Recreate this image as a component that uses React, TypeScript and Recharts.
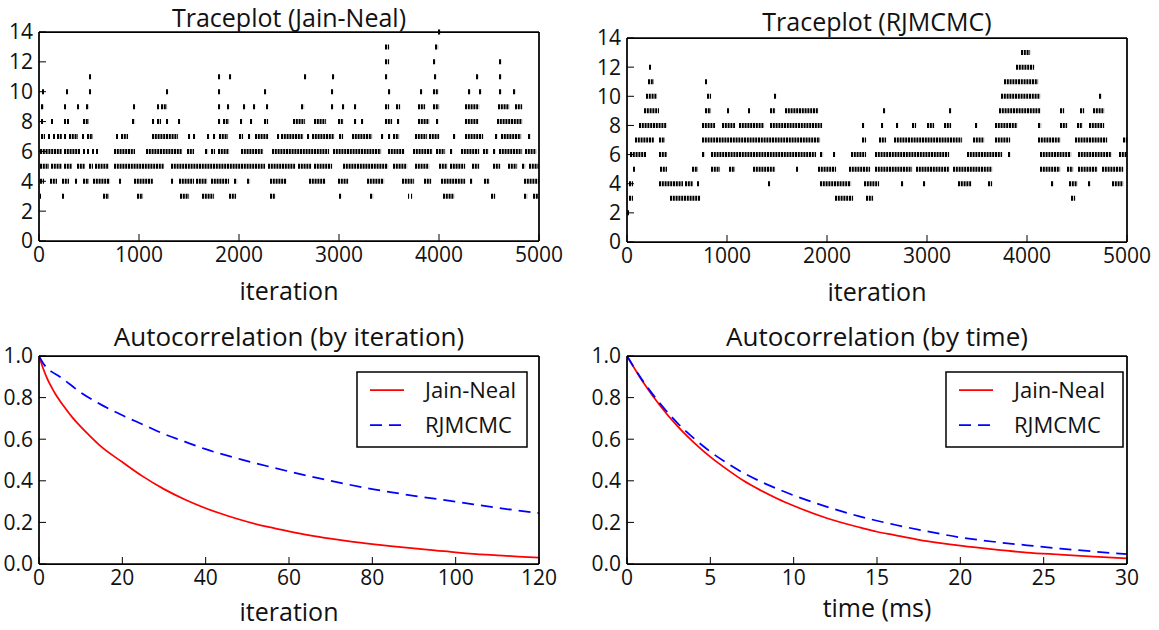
import React from 'react';
import { ScatterChart, Scatter, ErrorBar, XAxis, YAxis, LineChart, Line } from 'recharts';

const FONT = '"Open Sans", "DejaVu Sans", sans-serif';

// ---- traceplot data: [start, end] iteration spans where the sampler sat at k ----
const jnK3 = [[10, 20], [230, 250], [640, 700], [980, 1040], [1410, 1500], [1630, 1750], [1900, 1970], [2310, 2360], [3000, 3020], [3310, 3340], [3690, 3700], [3720, 3730], [4040, 4150], [4520, 4560], [4850, 4880], [4940, 4990]];
const jnK4 = [[10, 50], [110, 180], [230, 300], [360, 380], [440, 500], [540, 710], [800, 820], [950, 1140], [1320, 1340], [1400, 1550], [1570, 1680], [1720, 1900], [1950, 1980], [2080, 2110], [2310, 2470], [2700, 2860], [2990, 3090], [3280, 3450], [3630, 3750], [3850, 3920], [4020, 4260], [4310, 4330], [4450, 4500], [4850, 5000]];
const jnK5 = [[10, 100], [120, 230], [250, 330], [380, 460], [500, 540], [560, 700], [750, 1250], [1320, 2260], [2290, 2560], [2590, 2720], [2750, 2930], [3040, 3490], [3540, 3680], [3760, 3900], [4000, 4080], [4110, 4260], [4330, 4400], [4540, 4610], [4690, 4780], [4830, 4860], [4900, 5000]];
const jnK6 = [[10, 230], [250, 410], [440, 460], [480, 500], [530, 550], [570, 590], [750, 960], [1070, 1430], [1480, 1550], [1660, 1690], [1720, 1760], [1790, 1900], [2020, 2240], [2330, 2900], [2940, 3420], [3490, 3650], [3740, 3930], [3970, 4060], [4110, 4130], [4220, 4400], [4440, 4490], [4540, 4560], [4600, 4830], [4860, 4970]];
const jnK7 = [[20, 60], [90, 110], [140, 160], [180, 230], [250, 270], [300, 390], [430, 450], [480, 540], [770, 790], [820, 890], [1130, 1390], [1490, 1510], [1540, 1560], [1680, 1700], [1740, 1760], [1800, 1890], [2000, 2040], [2090, 2110], [2160, 2290], [2380, 2400], [2420, 2640], [2680, 2700], [2730, 2950], [3000, 3040], [3130, 3330], [3420, 3440], [3490, 3510], [3540, 3600], [3760, 3880], [3900, 4000], [4140, 4160], [4260, 4440], [4560, 4580], [4620, 4820], [4890, 4910]];
const jnK8 = [[20, 40], [120, 140], [250, 270], [280, 300], [440, 500], [930, 960], [1130, 1150], [1180, 1220], [1270, 1290], [1390, 1410], [1790, 1810], [1840, 1900], [2010, 2030], [2110, 2130], [2250, 2290], [2540, 2660], [2750, 2870], [2990, 3040], [3150, 3170], [3220, 3240], [3460, 3530], [3580, 3600], [3790, 3900], [3970, 3990], [4260, 4390], [4580, 4830]];
const jnK9 = [[20, 50], [250, 270], [380, 400], [470, 500], [940, 960], [1180, 1200], [1220, 1280], [1790, 1810], [1880, 1900], [2040, 2060], [2140, 2160], [2270, 2290], [2620, 2650], [2920, 2940], [3030, 3050], [3150, 3170], [3460, 3500], [3570, 3610], [3790, 3860], [3940, 4000], [4260, 4400], [4590, 4700], [4760, 4830]];
const jnK10 = [[30, 50], [270, 290], [500, 520], [1270, 1290], [1790, 1810], [2250, 2270], [2920, 2940], [3490, 3510], [3810, 3830], [3940, 3990], [4290, 4310], [4400, 4420], [4600, 4620], [4740, 4760]];
const jnK11 = [[500, 520], [1790, 1810], [1900, 1920], [2650, 2670], [2930, 2950], [3460, 3480], [3950, 3970], [4370, 4390], [4600, 4620]];
const jnK12 = [[3460, 3500], [3940, 3960], [4600, 4620]];
const jnK13 = [[3460, 3500], [3960, 3990]];
const jnK14 = [[3990, 4010]];

const rjK2 = [[0, 20]];
const rjK3 = [[20, 60], [430, 730], [2080, 2260], [2390, 2460], [4440, 4480]];
const rjK4 = [[20, 60], [320, 560], [580, 660], [700, 720], [1410, 1430], [1930, 2240], [2370, 2520], [2740, 2760], [2960, 2980], [3310, 3440], [3610, 3650], [4240, 4260], [4420, 4500], [4610, 4630], [4850, 4960]];
const rjK5 = [[60, 80], [330, 400], [650, 710], [840, 930], [1020, 1080], [1260, 1480], [1690, 1710], [1910, 2090], [2220, 2430], [2480, 2850], [2890, 3220], [3260, 3650], [4130, 4330], [4400, 4460], [4510, 4700], [4750, 4960]];
const rjK6 = [[30, 190], [320, 400], [750, 780], [840, 1890], [1930, 1960], [2060, 2080], [2240, 2390], [2480, 3220], [3400, 3750], [3810, 3830], [4130, 4440], [4510, 4840], [4920, 5000]];
const rjK7 = [[80, 270], [320, 380], [750, 1930], [2350, 2390], [2520, 2590], [2670, 3350], [3460, 3570], [3680, 3830], [4110, 4330], [4480, 4800], [4960, 5000]];
const rjK8 = [[120, 400], [750, 880], [950, 1080], [1120, 1370], [1430, 1950], [2350, 2370], [2540, 2560], [2690, 2710], [2850, 2890], [3000, 3070], [3170, 3240], [3480, 3500], [3680, 3900], [4110, 4140], [4330, 4400], [4500, 4550], [4620, 4770]];
const rjK9 = [[170, 320], [780, 840], [1000, 1020], [1210, 1230], [1430, 1480], [1580, 1910], [2560, 2580], [3220, 3240], [3720, 4130], [4330, 4370], [4530, 4570], [4660, 4770]];
const rjK10 = [[190, 300], [800, 840], [1470, 1490], [3740, 4130], [4720, 4740]];
const rjK11 = [[210, 270], [780, 800], [3770, 4110]];
const rjK12 = [[220, 240], [3890, 4070]];
const rjK13 = [[3940, 4030]];

const jnLevels: [number, number[][]][] = [[3, jnK3], [4, jnK4], [5, jnK5], [6, jnK6], [7, jnK7], [8, jnK8], [9, jnK9], [10, jnK10], [11, jnK11], [12, jnK12], [13, jnK13], [14, jnK14]];
const rjLevels: [number, number[][]][] = [[2, rjK2], [3, rjK3], [4, rjK4], [5, rjK5], [6, rjK6], [7, rjK7], [8, rjK8], [9, rjK9], [10, rjK10], [11, rjK11], [12, rjK12], [13, rjK13]];

const traceTicksX = [0, 1000, 2000, 3000, 4000, 5000];
const traceTicksY = [0, 2, 4, 6, 8, 10, 12, 14];

// ---- autocorrelation data ----
const lagIter = [0, 1, 2, 3, 4, 5, 6, 8, 10, 12, 15, 20, 25, 30, 35, 40, 45, 50, 55, 60, 65, 70, 75, 80, 85, 90, 95, 100, 105, 110, 115, 120];
const jnAcfIter = [1.0, 0.94, 0.89, 0.85, 0.815, 0.785, 0.757, 0.705, 0.66, 0.62, 0.563, 0.49, 0.42, 0.36, 0.31, 0.268, 0.233, 0.203, 0.178, 0.157, 0.138, 0.122, 0.108, 0.096, 0.085, 0.075, 0.066, 0.056, 0.048, 0.042, 0.036, 0.031];
const rjLagIter = [0, 1, 2, 3, 5, 10, 15, 20, 25, 30, 35, 40, 50, 60, 70, 80, 90, 100, 110, 120];
const rjAcfIter = [1.0, 0.965, 0.94, 0.925, 0.9, 0.825, 0.765, 0.715, 0.67, 0.625, 0.588, 0.552, 0.495, 0.445, 0.4, 0.36, 0.328, 0.3, 0.27, 0.245];

const lagTime = [0, 1, 2, 3, 4, 5, 6, 7, 8, 9, 10, 12, 14, 15, 16, 18, 20, 22, 24, 26, 28, 30];
const jnAcfTime = [1.0, 0.87, 0.76, 0.665, 0.585, 0.515, 0.455, 0.4, 0.355, 0.315, 0.28, 0.22, 0.175, 0.155, 0.14, 0.11, 0.088, 0.07, 0.055, 0.045, 0.035, 0.027];
const rjAcfTime = [1.0, 0.875, 0.77, 0.68, 0.605, 0.54, 0.485, 0.437, 0.397, 0.362, 0.33, 0.275, 0.228, 0.208, 0.19, 0.157, 0.128, 0.107, 0.09, 0.074, 0.06, 0.047];

const acfTicksY = [0, 0.2, 0.4, 0.6, 0.8, 1.0];
const iterTicksX = [0, 20, 40, 60, 80, 100, 120];
const timeTicksX = [0, 5, 10, 15, 20, 25, 30];

const toRuns = (levels: [number, number[][]][]) =>
  levels.flatMap(([k, runs]) => runs.map(([a, b]) => ({ it: a, k, span: [0, b - a] })));
const toLine = (xs: number[], ys: number[]) => xs.map((lag, i) => ({ lag, v: ys[i] }));

const tickStyle = { fontSize: 21, fill: '#111', fontFamily: FONT };
const axisLine = { stroke: '#000', strokeWidth: 1.75 };
const tickLine = { stroke: '#000', strokeWidth: 1 };

const TL = { x: 39, y: 32, w: 500, h: 209 };
const TR = { x: 627, y: 38, w: 500, h: 204 };
const BL = { x: 39, y: 356, w: 500, h: 208 };
const BR = { x: 627, y: 356, w: 500, h: 208 };

const frameStyle = (r: { x: number; y: number }) =>
  ({ position: 'absolute', left: r.x - 60, top: r.y - 20 }) as React.CSSProperties;
const MARGIN = { top: 0, right: 0, left: 0, bottom: 0 };

function Trace({ r, levels }: { r: typeof TL; levels: [number, number[][]][] }) {
  const data = toRuns(levels);
  return (
    <div style={frameStyle(r)}>
      <ScatterChart width={r.w + 100} height={r.h + 60} margin={MARGIN}>
        <XAxis xAxisId={0} type="number" dataKey="it" orientation="bottom" domain={[0, 5000]} ticks={traceTicksX} interval={0}
          height={40} allowDataOverflow axisLine={axisLine} tickLine={tickLine} tickSize={-7} tickMargin={13} tick={tickStyle} />
        <XAxis xAxisId="top" type="number" orientation="top" domain={[0, 5000]} ticks={traceTicksX} interval={0}
          height={20} allowDataOverflow axisLine={axisLine} tickLine={tickLine} tickSize={-7} tick={false} />
        <YAxis yAxisId={0} type="number" dataKey="k" domain={[0, 14]} ticks={traceTicksY} interval={0} width={60}
          allowDataOverflow axisLine={axisLine} tickLine={tickLine} tickSize={-7} tickMargin={13} tick={tickStyle} />
        <YAxis yAxisId="right" type="number" orientation="right" domain={[0, 14]} ticks={traceTicksY} interval={0} width={40}
          allowDataOverflow axisLine={axisLine} tickLine={tickLine} tickSize={-7} tick={false} />
        <Scatter data={data} isAnimationActive={false} shape={() => <g />}>
          <ErrorBar dataKey="span" direction="x" width={0} stroke="#000" strokeWidth={5} strokeDasharray="2 0.8" isAnimationActive={false} />
        </Scatter>
      </ScatterChart>
    </div>
  );
}

function Acf({ r, ticksX, domainX, jn, rj }: any) {
  return (
    <div style={frameStyle(r)}>
      <LineChart width={r.w + 100} height={r.h + 60} margin={MARGIN}>
        <XAxis xAxisId={0} type="number" dataKey="lag" orientation="bottom" domain={domainX} ticks={ticksX} interval={0}
          height={40} allowDataOverflow axisLine={axisLine} tickLine={tickLine} tickSize={-7} tickMargin={13} tick={tickStyle} />
        <XAxis xAxisId="top" type="number" orientation="top" domain={domainX} ticks={ticksX} interval={0}
          height={20} allowDataOverflow axisLine={axisLine} tickLine={tickLine} tickSize={-7} tick={false} />
        <YAxis yAxisId={0} type="number" domain={[0, 1]} ticks={acfTicksY} interval={0} width={60} tickFormatter={(v: number) => v.toFixed(1)}
          allowDataOverflow axisLine={axisLine} tickLine={tickLine} tickSize={-7} tickMargin={13} tick={tickStyle} />
        <YAxis yAxisId="right" type="number" orientation="right" domain={[0, 1]} ticks={acfTicksY} interval={0} width={40}
          allowDataOverflow axisLine={axisLine} tickLine={tickLine} tickSize={-7} tick={false} />
        <Line data={jn} dataKey="v" type="monotone" stroke="#ff0000" strokeWidth={1.75} dot={false} isAnimationActive={false} />
        <Line data={rj} dataKey="v" type="monotone" stroke="#0000ff" strokeWidth={1.75} strokeDasharray="12 7" dot={false} isAnimationActive={false} />
      </LineChart>
    </div>
  );
}

function LegendBox({ x, y, w }: { x: number; y: number; w: number }) {
  return (
    <g>
      <rect x={x} y={y} width={w} height={75} fill="#fff" stroke="#000" strokeWidth={1.5} />
      <line x1={x + 13} x2={x + 47} y1={y + 18} y2={y + 18} stroke="#ff0000" strokeWidth={1.75} />
      <text x={x + 68} y={y + 26} fontSize={22} fontFamily={FONT} fill="#111">Jain-Neal</text>
      <line x1={x + 13} x2={x + 47} y1={y + 53} y2={y + 53} stroke="#0000ff" strokeWidth={1.75} strokeDasharray="12 7" />
      <text x={x + 68} y={y + 61} fontSize={22} fontFamily={FONT} fill="#111">RJMCMC</text>
    </g>
  );
}

export default function App() {
  const txt = { fontFamily: FONT, fill: '#111', textAnchor: 'middle' as const };
  return (
    <div style={{ position: 'absolute', left: 0, top: 0, width: 1159, height: 630, background: '#fff', overflow: 'hidden' }}>
      <Trace r={TL} levels={jnLevels} />
      <Trace r={TR} levels={rjLevels} />
      <Acf r={BL} ticksX={iterTicksX} domainX={[0, 120]} jn={toLine(lagIter, jnAcfIter)} rj={toLine(rjLagIter, rjAcfIter)} />
      <Acf r={BR} ticksX={timeTicksX} domainX={[0, 30]} jn={toLine(lagTime, jnAcfTime)} rj={toLine(lagTime, rjAcfTime)} />
      <svg width={1159} height={630} style={{ position: 'absolute', left: 0, top: 0, pointerEvents: 'none' }}>
        <text {...txt} x={289} y={27} fontSize={25}>Traceplot (Jain-Neal)</text>
        <text {...txt} x={877} y={31} fontSize={25}>Traceplot (RJMCMC)</text>
        <text {...txt} x={289} y={346} fontSize={26}>Autocorrelation (by iteration)</text>
        <text {...txt} x={877} y={346} fontSize={26}>Autocorrelation (by time)</text>
        <text {...txt} x={289} y={300} fontSize={25}>iteration</text>
        <text {...txt} x={877} y={301} fontSize={25}>iteration</text>
        <text {...txt} x={289} y={621} fontSize={25}>iteration</text>
        <text {...txt} x={877} y={617} fontSize={25}>time (ms)</text>
        <LegendBox x={357} y={372} w={170} />
        <LegendBox x={946} y={372} w={177} />
      </svg>
    </div>
  );
}
